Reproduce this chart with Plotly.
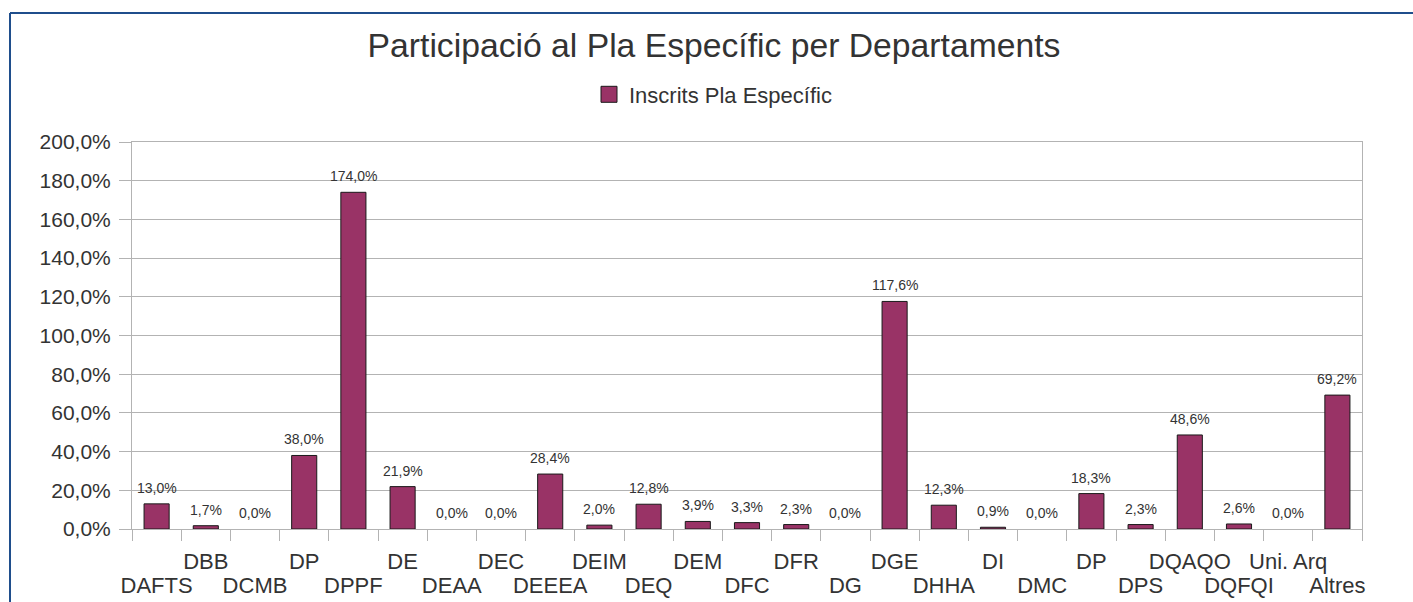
import plotly.graph_objects as go

departments = ["DAFTS", "DBB", "DCMB", "DP", "DPPF", "DE", "DEAA", "DEC", "DEEEA", "DEIM",
               "DEQ", "DEM", "DFC", "DFR", "DG", "DGE", "DHHA", "DI", "DMC", "DP",
               "DPS", "DQAQO", "DQFQI", "Uni. Arq", "Altres"]
inscrits_pct = [13.0, 1.7, 0.0, 38.0, 174.0, 21.9, 0.0, 0.0, 28.4, 2.0,
                12.8, 3.9, 3.3, 2.3, 0.0, 117.6, 12.3, 0.9, 0.0, 18.3,
                2.3, 48.6, 2.6, 0.0, 69.2]
y_ticks = [0, 20, 40, 60, 80, 100, 120, 140, 160, 180, 200]

ids = [f"c{i}" for i in range(len(departments))]
upper_text = [d if i % 2 == 1 else "" for i, d in enumerate(departments)]
lower_ids = ids[0::2]
lower_text = departments[0::2]
bar_text = [f"{v:.1f}%".replace(".", ",") for v in inscrits_pct]
y_tick_text = [f"{v:.1f}%".replace(".", ",") for v in y_ticks]
edge_widths = [1 if v > 0 else 0 for v in inscrits_pct]

W, H = 1413, 602
L, R, T, B = 132, 51, 142, 73
pw, ph = W - L - R, H - T - B

FONT = "Liberation Sans, Arial, sans-serif"
TXT = "#333333"
BAR = "#993366"
EDGE = "#1a1a1a"
GRID = "#b3b3b3"

fig = go.Figure()
fig.add_trace(go.Bar(
    x=ids, y=inscrits_pct, name="Inscrits Pla Específic",
    marker=dict(color=BAR, line=dict(color=EDGE, width=edge_widths)),
    showlegend=False,
))
# invisible companion on the second (lower-row label) x axis
fig.add_trace(go.Scatter(
    x=ids, y=inscrits_pct, xaxis="x2", mode="markers",
    marker=dict(opacity=0), showlegend=False, hoverinfo="skip",
))
# legend entry
fig.add_trace(go.Scatter(
    x=[None], y=[None], mode="markers", name="Inscrits Pla Específic",
    marker=dict(symbol="square", size=16, color=BAR, line=dict(color=EDGE, width=1)),
))

for xi, v, t in zip(ids, inscrits_pct, bar_text):
    fig.add_annotation(x=xi, y=v, text=t, showarrow=False, yanchor="bottom",
                       yshift=6, font=dict(family=FONT, size=14, color=TXT))

cat_range = [-0.5, len(ids) - 0.5]
fig.update_layout(
    width=W, height=H,
    margin=dict(l=L, r=R, t=T, b=B, autoexpand=False),
    paper_bgcolor="white", plot_bgcolor="white",
    bargap=0.49,
    font=dict(family=FONT, color=TXT),
    title=dict(text="Participació al Pla Específic per Departaments",
               x=714 / W, xanchor="center", y=1 - 45 / H, yanchor="middle",
               font=dict(family=FONT, size=33.7, color=TXT)),
    legend=dict(orientation="h", x=(713 - L) / pw, xanchor="center", y=1 + (T - 94.5) / ph,
                yanchor="middle", font=dict(family=FONT, size=22, color=TXT),
                itemsizing="trace", itemwidth=30),
    xaxis=dict(type="category", categoryarray=ids, range=cat_range, automargin=False,
               tickmode="array", tickvals=ids, ticktext=upper_text, tickangle=0,
               tickson="boundaries", ticks="outside", ticklen=11, tickcolor=GRID,
               ticklabelstandoff=13,
               showgrid=False, showline=True, linecolor=GRID, linewidth=1,
               mirror=True, tickfont=dict(family=FONT, size=22, color=TXT)),
    xaxis2=dict(type="category", categoryarray=ids, range=cat_range, automargin=False,
                overlaying="x", anchor="y", side="bottom",
                tickmode="array", tickvals=lower_ids, ticktext=lower_text, tickangle=0,
                ticks="outside", ticklen=11, tickcolor="rgba(0,0,0,0)",
                ticklabelstandoff=26,
                showgrid=False, showline=False, zeroline=False,
                tickfont=dict(family=FONT, size=22, color=TXT)),
    yaxis=dict(range=[0, 200], tickmode="array", tickvals=y_ticks, ticktext=y_tick_text,
               automargin=False,
               ticks="outside", ticklen=12, tickcolor=GRID, ticklabelstandoff=4,
               showgrid=True, gridcolor=GRID, gridwidth=1,
               showline=True, linecolor=GRID, linewidth=1, mirror=True,
               zeroline=False, tickfont=dict(family=FONT, size=21, color=TXT)),
)

# outer chart frame (top and left edges visible)
bx0 = (10 - L) / pw
by_top = (H - B - 13) / ph
fig.add_shape(type="line", xref="paper", yref="paper",
              x0=bx0, x1=(W + 10 - L) / pw, y0=by_top, y1=by_top,
              line=dict(color="#1f4e8c", width=2))
fig.add_shape(type="line", xref="paper", yref="paper",
              x0=bx0, x1=bx0, y0=by_top, y1=-(B + 10) / ph,
              line=dict(color="#1f4e8c", width=2))

fig.write_html("out.html", config={"displayModeBar": False},
               post_script="document.body.style.margin='0';")
